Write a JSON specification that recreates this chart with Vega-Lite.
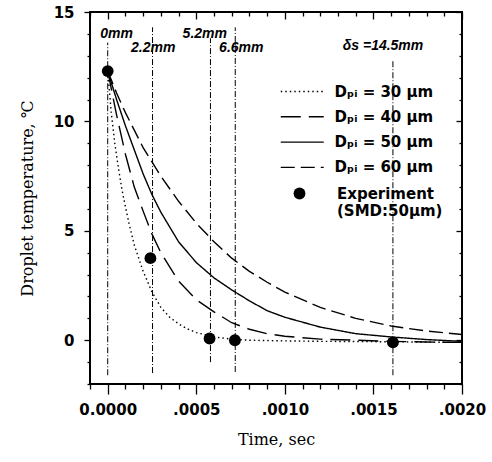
{
  "$schema": "https://vega.github.io/schema/vega-lite/v6.json",
  "width": 372,
  "height": 372,
  "autosize": {"type": "none"},
  "padding": {"left": 90, "top": 12, "right": 30, "bottom": 78},
  "config": {
    "view": {"stroke": "black", "strokeWidth": 2},
    "axis": {"grid": false, "domain": false, "tickColor": "black", "labelColor": "black", "titleColor": "black", "tickWidth": 1.3},
    "font": "DejaVu Sans"
  },
  "datasets": {
    "curves": [
      {"d": "Dₚᵢ = 30 µm", "t": 0, "T": 12.3},
      {"d": "Dₚᵢ = 30 µm", "t": 0.00002, "T": 10.4},
      {"d": "Dₚᵢ = 30 µm", "t": 0.00004, "T": 9.0},
      {"d": "Dₚᵢ = 30 µm", "t": 0.00006, "T": 7.9},
      {"d": "Dₚᵢ = 30 µm", "t": 0.00008, "T": 6.9},
      {"d": "Dₚᵢ = 30 µm", "t": 0.0001, "T": 6.1},
      {"d": "Dₚᵢ = 30 µm", "t": 0.00012, "T": 5.35},
      {"d": "Dₚᵢ = 30 µm", "t": 0.00015, "T": 4.35},
      {"d": "Dₚᵢ = 30 µm", "t": 0.0002, "T": 3.15},
      {"d": "Dₚᵢ = 30 µm", "t": 0.00025, "T": 2.2},
      {"d": "Dₚᵢ = 30 µm", "t": 0.0003, "T": 1.5},
      {"d": "Dₚᵢ = 30 µm", "t": 0.00035, "T": 1.05},
      {"d": "Dₚᵢ = 30 µm", "t": 0.0004, "T": 0.75},
      {"d": "Dₚᵢ = 30 µm", "t": 0.00045, "T": 0.52},
      {"d": "Dₚᵢ = 30 µm", "t": 0.0005, "T": 0.35},
      {"d": "Dₚᵢ = 30 µm", "t": 0.0006, "T": 0.15},
      {"d": "Dₚᵢ = 30 µm", "t": 0.0007, "T": 0.05},
      {"d": "Dₚᵢ = 30 µm", "t": 0.0008, "T": 0.0},
      {"d": "Dₚᵢ = 30 µm", "t": 0.001, "T": -0.03},
      {"d": "Dₚᵢ = 30 µm", "t": 0.0012, "T": -0.05},
      {"d": "Dₚᵢ = 30 µm", "t": 0.0016, "T": -0.07},
      {"d": "Dₚᵢ = 30 µm", "t": 0.002, "T": -0.1},
      {"d": "Dₚᵢ = 40 µm", "t": 0, "T": 12.3},
      {"d": "Dₚᵢ = 40 µm", "t": 0.00005, "T": 10.3},
      {"d": "Dₚᵢ = 40 µm", "t": 0.0001, "T": 8.5},
      {"d": "Dₚᵢ = 40 µm", "t": 0.00015, "T": 7.0},
      {"d": "Dₚᵢ = 40 µm", "t": 0.0002, "T": 5.9},
      {"d": "Dₚᵢ = 40 µm", "t": 0.00025, "T": 4.85},
      {"d": "Dₚᵢ = 40 µm", "t": 0.0003, "T": 4.0},
      {"d": "Dₚᵢ = 40 µm", "t": 0.0004, "T": 2.7},
      {"d": "Dₚᵢ = 40 µm", "t": 0.0005, "T": 1.85},
      {"d": "Dₚᵢ = 40 µm", "t": 0.0006, "T": 1.3},
      {"d": "Dₚᵢ = 40 µm", "t": 0.0007, "T": 0.8},
      {"d": "Dₚᵢ = 40 µm", "t": 0.0008, "T": 0.5},
      {"d": "Dₚᵢ = 40 µm", "t": 0.0009, "T": 0.3},
      {"d": "Dₚᵢ = 40 µm", "t": 0.001, "T": 0.18},
      {"d": "Dₚᵢ = 40 µm", "t": 0.0012, "T": 0.05},
      {"d": "Dₚᵢ = 40 µm", "t": 0.0014, "T": 0.0},
      {"d": "Dₚᵢ = 40 µm", "t": 0.0016, "T": -0.05},
      {"d": "Dₚᵢ = 40 µm", "t": 0.0018, "T": -0.08},
      {"d": "Dₚᵢ = 40 µm", "t": 0.002, "T": -0.1},
      {"d": "Dₚᵢ = 50 µm", "t": 0, "T": 12.3},
      {"d": "Dₚᵢ = 50 µm", "t": 0.00005, "T": 11.0},
      {"d": "Dₚᵢ = 50 µm", "t": 0.0001, "T": 9.8},
      {"d": "Dₚᵢ = 50 µm", "t": 0.00015, "T": 8.7},
      {"d": "Dₚᵢ = 50 µm", "t": 0.0002, "T": 7.6},
      {"d": "Dₚᵢ = 50 µm", "t": 0.00025, "T": 6.65},
      {"d": "Dₚᵢ = 50 µm", "t": 0.0003, "T": 5.85},
      {"d": "Dₚᵢ = 50 µm", "t": 0.0004, "T": 4.5},
      {"d": "Dₚᵢ = 50 µm", "t": 0.0005, "T": 3.55},
      {"d": "Dₚᵢ = 50 µm", "t": 0.0006, "T": 2.85},
      {"d": "Dₚᵢ = 50 µm", "t": 0.0007, "T": 2.3},
      {"d": "Dₚᵢ = 50 µm", "t": 0.0008, "T": 1.8},
      {"d": "Dₚᵢ = 50 µm", "t": 0.0009, "T": 1.35},
      {"d": "Dₚᵢ = 50 µm", "t": 0.001, "T": 1.05},
      {"d": "Dₚᵢ = 50 µm", "t": 0.0012, "T": 0.6},
      {"d": "Dₚᵢ = 50 µm", "t": 0.0014, "T": 0.3},
      {"d": "Dₚᵢ = 50 µm", "t": 0.0016, "T": 0.15},
      {"d": "Dₚᵢ = 50 µm", "t": 0.0018, "T": 0.03},
      {"d": "Dₚᵢ = 50 µm", "t": 0.002, "T": -0.05},
      {"d": "Dₚᵢ = 60 µm", "t": 0, "T": 12.3},
      {"d": "Dₚᵢ = 60 µm", "t": 0.00005, "T": 11.3},
      {"d": "Dₚᵢ = 60 µm", "t": 0.0001, "T": 10.4},
      {"d": "Dₚᵢ = 60 µm", "t": 0.00015, "T": 9.6},
      {"d": "Dₚᵢ = 60 µm", "t": 0.0002, "T": 8.8},
      {"d": "Dₚᵢ = 60 µm", "t": 0.00025, "T": 8.15},
      {"d": "Dₚᵢ = 60 µm", "t": 0.0003, "T": 7.5},
      {"d": "Dₚᵢ = 60 µm", "t": 0.0004, "T": 6.35},
      {"d": "Dₚᵢ = 60 µm", "t": 0.0005, "T": 5.35},
      {"d": "Dₚᵢ = 60 µm", "t": 0.0006, "T": 4.5},
      {"d": "Dₚᵢ = 60 µm", "t": 0.0007, "T": 3.75},
      {"d": "Dₚᵢ = 60 µm", "t": 0.0008, "T": 3.15},
      {"d": "Dₚᵢ = 60 µm", "t": 0.0009, "T": 2.65},
      {"d": "Dₚᵢ = 60 µm", "t": 0.001, "T": 2.2},
      {"d": "Dₚᵢ = 60 µm", "t": 0.0012, "T": 1.5},
      {"d": "Dₚᵢ = 60 µm", "t": 0.0014, "T": 1.0},
      {"d": "Dₚᵢ = 60 µm", "t": 0.0016, "T": 0.65},
      {"d": "Dₚᵢ = 60 µm", "t": 0.0018, "T": 0.42},
      {"d": "Dₚᵢ = 60 µm", "t": 0.002, "T": 0.26}
    ],
    "exp": [
      {"s": "Experiment", "t": 0, "T": 12.3},
      {"s": "Experiment", "t": 0.000241, "T": 3.75},
      {"s": "Experiment", "t": 0.000575, "T": 0.08},
      {"s": "Experiment", "t": 0.000718, "T": 0.0},
      {"s": "Experiment", "t": 0.00161, "T": -0.1}
    ],
    "vlines": [
      {"t": 0, "T1": -1.6, "T2": 13.6},
      {"t": 0.000253, "T1": -1.5, "T2": 14.3},
      {"t": 0.00058, "T1": -1.0, "T2": 13.8},
      {"t": 0.00072, "T1": -1.45, "T2": 14.3},
      {"t": 0.00161, "T1": -1.6, "T2": 12.8}
    ],
    "notes": [
      {"t": 0.00005, "T": 14.0, "text": "0mm"},
      {"t": 0.000257, "T": 13.36, "text": "2.2mm"},
      {"t": 0.000548, "T": 14.0, "text": "5.2mm"},
      {"t": 0.000754, "T": 13.36, "text": "6.6mm"},
      {"t": 0.001554, "T": 13.45, "text": "δs =14.5mm"}
    ]
  },
  "layer": [
    {
      "data": {"name": "vlines"},
      "mark": {"type": "rule", "color": "black", "strokeWidth": 1, "strokeDash": [6, 2, 1, 2]},
      "encoding": {
        "x": {"field": "t", "type": "quantitative", "scale": {"domain": [-0.0001, 0.002], "nice": false, "zero": false},
              "axis": {"orient": "top", "values": [0, 0.0005, 0.001, 0.0015, 0.002], "tickSize": -7, "labels": false, "title": null}},
        "y": {"field": "T1", "type": "quantitative", "scale": {"domain": [-2, 15], "nice": false, "zero": false},
              "axis": {"orient": "right", "values": [0, 5, 10, 15], "tickSize": -6, "labels": false, "title": null}},
        "y2": {"field": "T2"}
      }
    },
    {
      "data": {"name": "curves"},
      "mark": {"type": "line", "color": "black", "strokeWidth": 1.4},
      "encoding": {
        "x": {"field": "t", "type": "quantitative", "scale": {"domain": [-0.0001, 0.002], "nice": false, "zero": false},
              "axis": {"orient": "bottom", "values": [0, 0.0005, 0.001, 0.0015, 0.002], "tickSize": 10, "labelFlush": false, "labelOverlap": false,
                       "labelFont": "DejaVu Sans", "labelFontWeight": "bold", "labelFontSize": 15, "labelPadding": 8,
                       "labelExpr": "datum.value == 0 ? '0.0000' : replace(format(datum.value, '.4f'), '0.', '.')",
                       "title": "Time,  sec", "titleFont": "DejaVu Serif", "titleFontSize": 16, "titleFontWeight": "normal", "titlePadding": 14}},
        "y": {"field": "T", "type": "quantitative", "scale": {"domain": [-2, 15], "nice": false, "zero": false},
              "axis": {"orient": "left", "values": [0, 5, 10, 15], "tickSize": 6, "labelFont": "DejaVu Sans", "labelFontWeight": "bold", "labelFontSize": 15, "labelPadding": 10,
                       "title": "Droplet temperature,  ℃", "titleFont": "DejaVu Serif", "titleFontSize": 16, "titleFontWeight": "normal", "titlePadding": 18}},
        "strokeDash": {"field": "d", "type": "nominal",
          "scale": {"domain": ["Dₚᵢ = 30 µm", "Dₚᵢ = 40 µm", "Dₚᵢ = 50 µm", "Dₚᵢ = 60 µm"], "range": [[1.5, 3], [20, 8], [1, 0], [14, 6]]},
          "legend": {"orient": "none", "legendX": 200.75, "legendY": 68, "title": null, "symbolType": "M-2,0H2", "symbolSize": 462, "symbolStrokeWidth": 1.4,
                     "symbolStrokeColor": "black", "labelFont": "DejaVu Sans", "labelFontWeight": "bold", "labelFontSize": 15, "labelColor": "black",
                     "labelOffset": 20.75, "rowPadding": 5.3}}
      }
    },
    {
      "data": {"name": "exp"},
      "mark": {"type": "point", "filled": true, "color": "black", "size": 140, "opacity": 1},
      "encoding": {
        "x": {"field": "t", "type": "quantitative", "scale": {"domain": [-0.0001, 0.002], "nice": false, "zero": false},
              "axis": {"orient": "bottom", "values": [-0.0001, 0.0001, 0.0002, 0.0003, 0.0004, 0.0006, 0.0007, 0.0008, 0.0009, 0.0011, 0.0012, 0.0013, 0.0014, 0.0016, 0.0017, 0.0018, 0.0019], "tickSize": 5, "labels": false, "title": null}},
        "y": {"field": "T", "type": "quantitative", "scale": {"domain": [-2, 15], "nice": false, "zero": false},
              "axis": {"orient": "left", "values": [-2, -1, 1, 2, 3, 4, 6, 7, 8, 9, 11, 12, 13, 14], "tickSize": 3, "labels": false, "title": null}},
        "shape": {"field": "s", "type": "nominal", "scale": {"range": ["circle"]},
          "legend": {"orient": "none", "legendX": 202, "legendY": 174, "title": null, "symbolSize": 140, "symbolFillColor": "black", "symbolStrokeColor": "black",
                     "labelFont": "DejaVu Sans", "labelFontWeight": "bold", "labelFontSize": 15, "labelColor": "black", "labelOffset": 30,
                     "labelExpr": "['Experiment', '(SMD:50µm)']"}}
      }
    },
    {
      "data": {"name": "notes"},
      "mark": {"type": "text", "font": "Liberation Sans", "fontStyle": "italic", "fontWeight": "bold", "fontSize": 14, "color": "black", "baseline": "middle", "align": "center"},
      "encoding": {
        "x": {"field": "t", "type": "quantitative", "scale": {"domain": [-0.0001, 0.002], "nice": false, "zero": false},
              "axis": {"orient": "top", "values": [-0.0001, 0.0001, 0.0002, 0.0003, 0.0004, 0.0006, 0.0007, 0.0008, 0.0009, 0.0011, 0.0012, 0.0013, 0.0014, 0.0016, 0.0017, 0.0018, 0.0019], "tickSize": -4, "labels": false, "title": null}},
        "y": {"field": "T", "type": "quantitative", "scale": {"domain": [-2, 15], "nice": false, "zero": false},
              "axis": {"orient": "right", "values": [-2, -1, 1, 2, 3, 4, 6, 7, 8, 9, 11, 12, 13, 14], "tickSize": -3, "labels": false, "title": null}},
        "text": {"field": "text", "type": "nominal"}
      }
    }
  ],
  "resolve": {"axis": {"x": "independent", "y": "independent"}}
}
